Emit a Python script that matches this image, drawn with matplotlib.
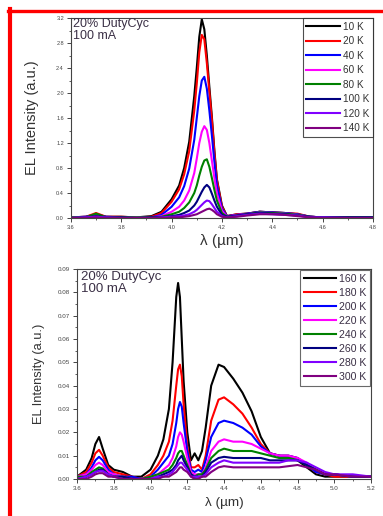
import matplotlib
matplotlib.use("Agg")
import matplotlib.pyplot as plt
from matplotlib.lines import Line2D
from matplotlib.ticker import MultipleLocator, FormatStrFormatter

plt.rcParams['font.family'] = ['Liberation Sans', 'DejaVu Sans']

# Low temperature spectra (10 K - 140 K)
wl_low = [3.60, 3.66, 3.70, 3.74, 3.80, 3.86, 3.92, 3.96, 4.00, 4.03, 4.05, 4.07,
          4.09, 4.10, 4.11, 4.12, 4.13, 4.14, 4.15, 4.16, 4.17, 4.18, 4.20, 4.22,
          4.26, 4.30, 4.35, 4.40, 4.45, 4.50, 4.55, 4.60, 4.70, 4.80]
labels_low = ["10 K", "20 K", "40 K", "60 K", "80 K", "100 K", "120 K", "140 K"]
el_10K = [0.01, 0.02, 0.06, 0.02, 0.02, 0.01, 0.03, 0.10, 0.30, 0.52, 0.80, 1.22,
          1.95, 2.40, 2.90, 3.18, 3.02, 2.60, 2.10, 1.62, 1.08, 0.62, 0.20, 0.03,
          0.06, 0.07, 0.10, 0.09, 0.08, 0.06, 0.02, 0.01, 0.01, 0.01]
el_20K = [0.01, 0.02, 0.08, 0.02, 0.02, 0.01, 0.02, 0.08, 0.26, 0.46, 0.70, 1.07,
          1.72, 2.15, 2.65, 2.93, 2.86, 2.48, 2.02, 1.57, 1.04, 0.60, 0.18, 0.03,
          0.06, 0.07, 0.10, 0.09, 0.08, 0.07, 0.02, 0.01, 0.01, 0.01]
el_40K = [0.01, 0.02, 0.05, 0.02, 0.01, 0.01, 0.01, 0.05, 0.18, 0.33, 0.51, 0.79,
          1.25, 1.60, 1.95, 2.20, 2.26, 2.07, 1.72, 1.32, 0.90, 0.52, 0.15, 0.03,
          0.05, 0.07, 0.10, 0.09, 0.08, 0.06, 0.02, 0.01, 0.01, 0.01]
el_60K = [0.01, 0.01, 0.04, 0.01, 0.01, 0.01, 0.01, 0.03, 0.10, 0.18, 0.28, 0.44,
          0.72, 0.95, 1.20, 1.38, 1.47, 1.41, 1.20, 0.92, 0.64, 0.39, 0.12, 0.02,
          0.05, 0.06, 0.09, 0.08, 0.07, 0.05, 0.02, 0.01, 0.01, 0.01]
el_80K = [0.01, 0.01, 0.07, 0.01, 0.01, 0.01, 0.01, 0.02, 0.06, 0.10, 0.16, 0.25,
          0.40, 0.52, 0.68, 0.82, 0.92, 0.94, 0.82, 0.64, 0.45, 0.28, 0.08, 0.02,
          0.04, 0.06, 0.09, 0.08, 0.07, 0.05, 0.02, 0.01, 0.01, 0.01]
el_100K = [0.00, 0.01, 0.03, 0.01, 0.01, 0.00, 0.01, 0.01, 0.03, 0.05, 0.08, 0.12,
           0.20, 0.26, 0.34, 0.42, 0.49, 0.53, 0.49, 0.39, 0.28, 0.18, 0.05, 0.02,
           0.04, 0.06, 0.08, 0.07, 0.06, 0.04, 0.02, 0.01, 0.01, 0.01]
el_120K = [0.00, 0.01, 0.02, 0.01, 0.00, 0.00, 0.00, 0.01, 0.02, 0.03, 0.04, 0.06,
           0.10, 0.13, 0.17, 0.21, 0.25, 0.28, 0.27, 0.22, 0.16, 0.10, 0.03, 0.01,
           0.03, 0.05, 0.07, 0.06, 0.05, 0.04, 0.01, 0.01, 0.00, 0.00]
el_140K = [0.00, 0.00, 0.01, 0.00, 0.00, 0.00, 0.00, 0.00, 0.01, 0.01, 0.02, 0.03,
           0.05, 0.06, 0.08, 0.10, 0.12, 0.14, 0.15, 0.13, 0.10, 0.06, 0.02, 0.01,
           0.02, 0.04, 0.06, 0.06, 0.05, 0.03, 0.01, 0.00, 0.00, 0.00]

# High temperature spectra (160 K - 300 K)
wl_high = [3.60, 3.65, 3.68, 3.70, 3.72, 3.74, 3.77, 3.80, 3.85, 3.90, 3.95, 4.00,
           4.04, 4.07, 4.10, 4.12, 4.14, 4.15, 4.16, 4.17, 4.18, 4.20, 4.22, 4.24,
           4.26, 4.28, 4.30, 4.33, 4.37, 4.40, 4.45, 4.50, 4.55, 4.60, 4.65, 4.70,
           4.75, 4.80, 4.85, 4.90, 4.95, 5.00, 5.10, 5.20]
labels_high = ["160 K", "180 K", "200 K", "220 K", "240 K", "260 K", "280 K", "300 K"]
el_160K = [.001, .004, .009, .015, .018, .013, .006, .004, .003, .001, .001, .004,
           .010, .017, .030, .050, .078, .084, .078, .060, .042, .020, .008, .011,
           .008, .012, .022, .040, .049, .048, .043, .037, .029, .018, .011, .010,
           .009, .008, .005, .002, .001, .001, .001, .001]
el_180K = [.001, .003, .007, .011, .0125, .010, .005, .003, .002, .001, .000, .002,
           .006, .010, .016, .025, .040, .047, .049, .044, .032, .014, .005, .005,
           .006, .004, .010, .025, .034, .035, .032, .028, .022, .015, .011, .010,
           .010, .009, .006, .003, .002, .001, .001, .001]
el_200K = [.001, .002, .005, .008, .0095, .008, .004, .002, .001, .001, .000, .001,
           .004, .007, .010, .015, .024, .030, .033, .031, .024, .012, .004, .003,
           .004, .003, .008, .018, .024, .025, .024, .022, .019, .014, .011, .010,
           .010, .009, .006, .003, .002, .002, .001, .001]
el_220K = [.001, .002, .004, .006, .007, .006, .003, .002, .001, .000, .000, .001,
           .002, .004, .006, .009, .014, .018, .020, .019, .016, .009, .003, .002,
           .002, .002, .005, .012, .016, .017, .016, .016, .015, .013, .011, .010,
           .010, .009, .007, .004, .002, .002, .001, .001]
el_240K = [.001, .001, .003, .004, .005, .0045, .002, .001, .001, .000, .000, .001,
           .002, .003, .004, .006, .009, .011, .012, .012, .010, .006, .002, .001,
           .002, .002, .004, .009, .012, .013, .012, .012, .012, .011, .010, .009,
           .009, .008, .006, .004, .002, .002, .001, .001]
el_260K = [.000, .001, .002, .003, .004, .004, .002, .001, .001, .000, .000, .000,
           .001, .002, .003, .004, .006, .008, .009, .010, .008, .005, .002, .001,
           .001, .001, .003, .007, .009, .0095, .009, .009, .009, .009, .008, .008,
           .008, .008, .006, .004, .002, .002, .001, .001]
el_280K = [.000, .001, .002, .003, .0035, .0035, .002, .001, .000, .000, .000, .000,
           .001, .001, .002, .003, .005, .006, .007, .007, .006, .004, .001, .001,
           .001, .001, .002, .005, .007, .008, .007, .007, .007, .007, .007, .007,
           .008, .008, .007, .005, .003, .002, .002, .001]
el_300K = [.000, .000, .001, .002, .0025, .0025, .001, .001, .000, .000, .000, .000,
           .000, .001, .001, .002, .003, .004, .005, .005, .004, .003, .001, .000,
           .000, .001, .001, .003, .005, .0055, .005, .005, .005, .005, .005, .005,
           .0055, .006, .005, .004, .002, .002, .001, .001]

colors = ["#000000", "#ff0000", "#0000ff", "#ff00ff", "#008000", "#000080",
          "#8000ff", "#800080"]
low_series = [el_10K, el_20K, el_40K, el_60K, el_80K, el_100K, el_120K, el_140K]
high_series = [el_160K, el_180K, el_200K, el_220K, el_240K, el_260K, el_280K, el_300K]

fig = plt.figure(figsize=(3.83, 5.16), dpi=100)
ax1 = fig.add_axes([0.185, 0.5775, 0.789, 0.3875])
ax2 = fig.add_axes([0.201, 0.0717, 0.768, 0.407])


def style_axes(ax, tick_size):
    for s in ax.spines.values():
        s.set_color("#444444")
        s.set_linewidth(0.8)
    ax.tick_params(which="major", direction="out", length=3, width=0.7,
                   labelsize=tick_size, colors="#444444", pad=2)
    ax.tick_params(which="minor", direction="out", length=1.6, width=0.6,
                   colors="#444444")
    ax.tick_params(top=False, right=False)


for y, lab, c in zip(low_series, labels_low, colors):
    ax1.plot(wl_low, y, color=c, lw=1.5, label=lab)
ax1.set_xlim(3.6, 4.8)
ax1.set_ylim(0, 3.2)
ax1.xaxis.set_major_locator(MultipleLocator(0.2))
ax1.xaxis.set_minor_locator(MultipleLocator(0.1))
ax1.yaxis.set_major_locator(MultipleLocator(0.4))
ax1.yaxis.set_minor_locator(MultipleLocator(0.2))
ax1.xaxis.set_major_formatter(FormatStrFormatter("%.1f"))
ax1.yaxis.set_major_formatter(FormatStrFormatter("%.1f"))
style_axes(ax1, 4)
ax1.set_ylabel("EL Intensity (a.u.)", fontsize=10.5, color="#333333", labelpad=12)
ax1.set_xlabel("λ (µm)", fontsize=11, color="#333333", labelpad=3)
ax1.text(0.008, 0.998, "20% DutyCyc\n100 mA", transform=ax1.transAxes,
         ha="left", va="top", fontsize=9, color="#3a2f45", linespacing=1.0)
leg1 = ax1.legend(loc="upper right", fontsize=7.2, frameon=True, fancybox=False,
                  borderaxespad=0, handlelength=3.4, handletextpad=0.3,
                  labelspacing=0.45, borderpad=0.35, labelcolor="#333333")
leg1.get_frame().set_edgecolor("#222222")
leg1.get_frame().set_linewidth(0.8)

for y, lab, c in zip(high_series, labels_high, colors):
    ax2.plot(wl_high, y, color=c, lw=1.5, label=lab)
ax2.set_xlim(3.6, 5.2)
ax2.set_ylim(0, 0.09)
ax2.xaxis.set_major_locator(MultipleLocator(0.2))
ax2.xaxis.set_minor_locator(MultipleLocator(0.1))
ax2.yaxis.set_major_locator(MultipleLocator(0.01))
ax2.yaxis.set_minor_locator(MultipleLocator(0.005))
ax2.xaxis.set_major_formatter(FormatStrFormatter("%.1f"))
ax2.yaxis.set_major_formatter(FormatStrFormatter("%.2f"))
style_axes(ax2, 4.5)
ax2.set_ylabel("EL Intensity (a.u.)", fontsize=9.3, color="#333333", labelpad=9)
ax2.set_xlabel("λ (µm)", fontsize=9.7, color="#333333", labelpad=4)
ax2.text(0.012, 0.99, "20% DutyCyc\n100 mA", transform=ax2.transAxes,
         ha="left", va="top", fontsize=9.5, color="#3a2f45", linespacing=1.0)
leg2 = ax2.legend(loc="upper right", fontsize=7.6, frameon=True, fancybox=False,
                  borderaxespad=0.1, handlelength=3.0, handletextpad=0.3,
                  labelspacing=0.38, borderpad=0.35, labelcolor="#3a2f45")
leg2.get_frame().set_edgecolor("#444444")
leg2.get_frame().set_linewidth(0.8)

# red frame on the left and top edges
fig.add_artist(Line2D([9.5 / 383, 9.5 / 383], [0, 1 - 9 / 516],
                      transform=fig.transFigure, color="#ff0000", lw=3))
fig.add_artist(Line2D([8 / 383, 1], [1 - 11 / 516, 1 - 11 / 516],
                      transform=fig.transFigure, color="#ff0000", lw=2.4))

fig.savefig("out.png", dpi=100)
